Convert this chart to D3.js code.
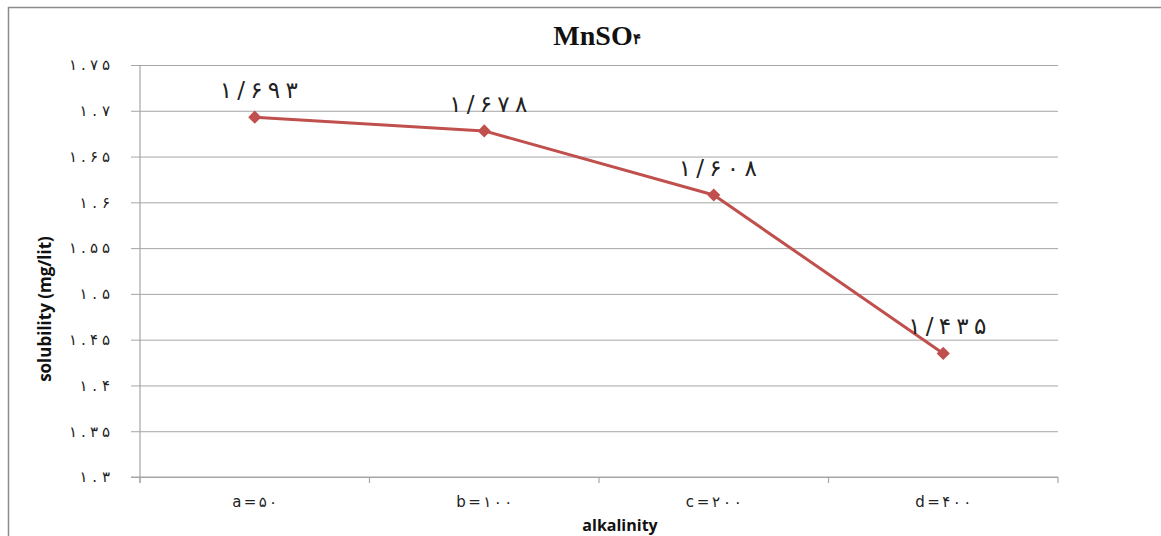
<!DOCTYPE html>
<html><head><meta charset="utf-8">
<script src="https://cdn.jsdelivr.net/npm/d3@7"></script>
<style>
html,body{margin:0;padding:0;background:#fff;}
svg{display:block;}
</style>
</head><body>
<svg id="chart" width="1161" height="536"></svg>
<script>
// ---- data ----
const categories = ["a=۵۰", "b=۱۰۰", "c=۲۰۰", "d=۴۰۰"];
const solubility = [1.693, 1.678, 1.608, 1.435];
const valueLabels = ["۱/۶۹۳", "۱/۶۷۸", "۱/۶۰۸", "۱/۴۳۵"];
const yTicks = [1.3, 1.35, 1.4, 1.45, 1.5, 1.55, 1.6, 1.65, 1.7, 1.75];
const yTickLabels = ["۱.۳", "۱.۳۵", "۱.۴", "۱.۴۵", "۱.۵", "۱.۵۵", "۱.۶", "۱.۶۵", "۱.۷", "۱.۷۵"];
const titleMain = "MnSO";
const titleSub = "۴";
const xTitle = "alkalinity";
const yTitle = "solubility (mg/lit)";

// ---- layout ----
const svg = d3.select("#chart");
const plot = {left: 140, right: 1058, top: 65, bottom: 477};
const lineColor = "#C0504D";
const gridColor = "#a6a6a6";

const x = d3.scaleBand().domain(categories).range([plot.left, plot.right]).padding(0);
const y = d3.scaleLinear().domain([1.3, 1.75]).range([plot.bottom, plot.top]);

// outer frame (left & top edges visible)
svg.append("path")
  .attr("d", `M8.5,536 L8.5,7.5 L1161,7.5`)
  .attr("fill", "none").attr("stroke", "#8c8c8c").attr("stroke-width", 1.5);

// gridlines + y axis
const yAxis = d3.axisLeft(y).tickValues(yTicks)
  .tickFormat((d, i) => yTickLabels[i])
  .tickSize(-(plot.right - plot.left)).tickSizeOuter(0).tickPadding(30);
const gy = svg.append("g").attr("transform", `translate(${plot.left},0)`).call(yAxis);
gy.select(".domain").remove();
gy.selectAll(".tick line").attr("stroke", gridColor).attr("stroke-width", 1)
  .attr("x1", -9);
gy.selectAll(".tick text")
  .attr("font-family", "DejaVu Sans, sans-serif").attr("font-size", 15)
  .attr("fill", "#222")
  .attr("textLength", (d, i) => yTickLabels[i].length * 10.5 - 1)
  .attr("lengthAdjust", "spacing");

svg.append("line").attr("x1", plot.left).attr("x2", plot.left)
  .attr("y1", plot.top).attr("y2", plot.bottom + 6)
  .attr("stroke", gridColor).attr("stroke-width", 1.2);

// x axis
const xAxis = d3.axisBottom(x).tickSize(0).tickPadding(19);
const gx = svg.append("g").attr("transform", `translate(0,${plot.bottom})`).call(xAxis);
gx.select(".domain").remove();
gx.selectAll(".tick text")
  .attr("font-family", "DejaVu Sans, sans-serif").attr("font-size", 15)
  .attr("fill", "#222")
  .attr("textLength", d => d.length * 11.2)
  .attr("lengthAdjust", "spacing");
svg.append("line").attr("x1", plot.left - 9).attr("x2", plot.right)
  .attr("y1", plot.bottom).attr("y2", plot.bottom)
  .attr("stroke", gridColor).attr("stroke-width", 1.2);
const bounds = categories.map(c => x(c)).concat([x(categories[categories.length - 1]) + x.bandwidth()]);
svg.append("g").selectAll("line").data(bounds).join("line")
  .attr("x1", d => d).attr("x2", d => d)
  .attr("y1", plot.bottom).attr("y2", plot.bottom + 6)
  .attr("stroke", gridColor).attr("stroke-width", 1.2);

// line
const cx = c => x(c) + x.bandwidth() / 2;
const pts = categories.map((c, i) => [cx(c), y(solubility[i])]);
svg.append("path").datum(pts)
  .attr("d", d3.line())
  .attr("fill", "none").attr("stroke", lineColor).attr("stroke-width", 3)
  .attr("stroke-linejoin", "round");

// diamond markers
svg.append("g").selectAll("path").data(pts).join("path")
  .attr("d", d3.symbol(d3.symbolDiamond2, 110)())
  .attr("transform", d => `translate(${d[0]},${d[1]})`)
  .attr("fill", lineColor);

// data labels
svg.append("g").selectAll("text").data(pts).join("text")
  .attr("x", d => d[0] + 4).attr("y", d => d[1] - 19)
  .attr("text-anchor", "middle")
  .attr("font-family", "DejaVu Sans, sans-serif").attr("font-size", 23)
  .attr("fill", "#222")
  .attr("textLength", 78)
  .attr("lengthAdjust", "spacing")
  .text((d, i) => valueLabels[i]);

// title
const t = svg.append("text").attr("x", 597).attr("y", 45).attr("text-anchor", "middle")
  .attr("font-family", "Liberation Serif, serif").attr("font-weight", "bold")
  .attr("font-size", 28).attr("fill", "#111");
t.append("tspan").text(titleMain);
t.append("tspan").attr("font-size", 15).attr("dy", -1).text(titleSub);

// axis titles
svg.append("text").attr("x", 620).attr("y", 531).attr("text-anchor", "middle")
  .attr("font-family", "Open Sans, DejaVu Sans, sans-serif").attr("font-weight", "bold")
  .attr("font-size", 16).attr("fill", "#111").text(xTitle);
svg.append("text").attr("transform", "translate(51,309) rotate(-90)")
  .attr("text-anchor", "middle")
  .attr("font-family", "Liberation Sans Narrow, Open Sans, sans-serif").attr("font-weight", "bold")
  .attr("font-size", 17).attr("fill", "#111").text(yTitle);
</script>
</body></html>
